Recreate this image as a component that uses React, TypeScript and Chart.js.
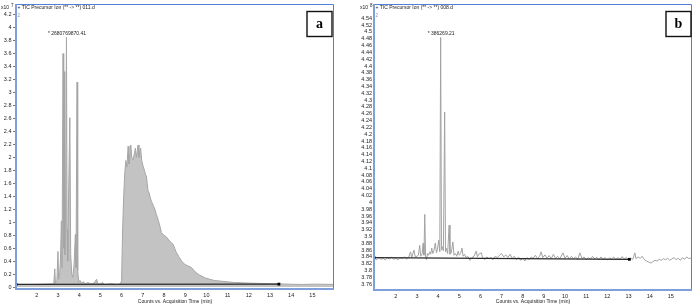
import React, { useEffect, useRef } from "react";
import { Chart, registerables } from "chart.js";

Chart.register(...registerables);

// ---------- Panel (a) data : Counts x10^7 vs acquisition time (min) ----------
const timesA = [
  1.02, 1.5, 2.0, 2.5, 2.8, 2.85, 2.88, 2.95, 3.0, 3.03, 3.08, 3.12, 3.16, 3.19, 3.24, 3.27,
  3.29, 3.32, 3.36, 3.4, 3.43, 3.46, 3.5, 3.56, 3.6, 3.65, 3.7, 3.76, 3.82, 3.85, 3.9, 3.93,
  3.98, 4.05, 4.1, 4.2, 4.3, 4.4, 4.55, 4.7, 4.82, 4.88, 5.0, 5.1, 5.2, 5.5, 5.8, 5.95,
  6.0, 6.05, 6.1, 6.15, 6.2, 6.25, 6.31, 6.35, 6.4, 6.43, 6.48, 6.54, 6.6, 6.65, 6.7, 6.74,
  6.78, 6.82, 6.86, 6.9, 6.95, 7.02, 7.08, 7.12, 7.17, 7.21, 7.25, 7.3, 7.35, 7.41, 7.48, 7.57,
  7.64, 7.72, 7.8, 7.88, 7.96, 8.04, 8.12, 8.19, 8.3, 8.43, 8.5, 8.59, 8.7, 8.83, 8.98, 9.1,
  9.3, 9.42, 9.53, 9.65, 9.77, 9.95, 10.16, 10.4, 10.71, 11.0, 11.34, 11.7, 12.1, 12.6, 13.0, 13.42,
  13.8, 14.5, 15.2, 16.02,
];
const countsA = [
  0.04, 0.04, 0.04, 0.045, 0.05, 0.28, 0.06, 0.1, 0.55, 0.12, 0.2, 0.45, 1.02, 0.3, 3.6, 0.6,
  3.32, 0.5, 1.2, 3.85, 0.89, 0.4, 1.4, 2.61, 0.5, 0.2, 0.15, 0.35, 0.81, 0.3, 3.16, 0.25,
  0.08, 0.1, 0.06, 0.08, 0.05, 0.07, 0.05, 0.06, 0.12, 0.05, 0.05, 0.07, 0.04, 0.05, 0.04, 0.05,
  0.1, 0.9, 1.4, 1.76, 1.95, 1.85, 2.17, 1.9, 2.05, 2.19, 2.0, 1.96, 2.05, 2.14, 2.0, 2.1,
  2.19, 2.0, 2.08, 2.14, 1.95, 1.86, 1.8, 1.74, 1.71, 1.6, 1.48, 1.45, 1.38, 1.32, 1.27, 1.2,
  1.12, 1.04, 0.95, 0.84, 0.81, 0.79, 0.77, 0.74, 0.7, 0.66, 0.6, 0.53, 0.47, 0.4, 0.35, 0.33,
  0.3, 0.25, 0.22, 0.19, 0.17, 0.14, 0.12, 0.1, 0.09, 0.08, 0.07, 0.065, 0.06, 0.055, 0.05, 0.05,
  0.045, 0.04, 0.045, 0.04,
];
const baseTimesA = [1.02, 13.42];
const baseCountsA = [0.04, 0.045];
const yTicksA = [0, 0.2, 0.4, 0.6, 0.8, 1, 1.2, 1.4, 1.6, 1.8, 2, 2.2, 2.4, 2.6, 2.8, 3, 3.2, 3.4, 3.6, 3.8, 4, 4.2];

// ---------- Panel (b) data : Counts x10^8 vs acquisition time (min) ----------
const timesB = [
  0.97, 1.1, 1.2, 1.3, 1.4, 1.5, 1.6, 1.7, 1.8, 1.9, 2.0, 2.1, 2.2, 2.3, 2.4, 2.5,
  2.6, 2.7, 2.75, 2.86, 2.92, 3.0, 3.07, 3.13, 3.18, 3.25, 3.29, 3.33, 3.37, 3.41, 3.45, 3.5,
  3.55, 3.6, 3.65, 3.7, 3.75, 3.8, 3.87, 3.92, 3.97, 4.03, 4.08, 4.12, 4.16, 4.2, 4.25, 4.31,
  4.35, 4.4, 4.45, 4.52, 4.56, 4.62, 4.7, 4.75, 4.82, 4.88, 4.95, 5.0, 5.06, 5.13, 5.18, 5.25,
  5.32, 5.4, 5.5, 5.6, 5.7, 5.8, 5.86, 5.92, 6.04, 6.1, 6.2, 6.3, 6.4, 6.5, 6.6, 6.7,
  6.8, 6.9, 7.0, 7.1, 7.2, 7.3, 7.4, 7.5, 7.6, 7.7, 7.8, 7.9, 8.0, 8.1, 8.2, 8.3,
  8.4, 8.5, 8.6, 8.7, 8.8, 8.87, 8.95, 9.05, 9.15, 9.25, 9.35, 9.45, 9.55, 9.65, 9.75, 9.9,
  10.0, 10.1, 10.2, 10.3, 10.4, 10.5, 10.6, 10.7, 10.8, 10.9, 11.0, 11.1, 11.2, 11.3, 11.4, 11.5,
  11.6, 11.7, 11.8, 11.9, 12.0, 12.1, 12.2, 12.3, 12.4, 12.5, 12.6, 12.7, 12.8, 12.9, 13.0, 13.1,
  13.2, 13.3, 13.35, 13.45, 13.55, 13.65, 13.75, 13.85, 13.95, 14.06, 14.15, 14.25, 14.35, 14.45, 14.55, 14.65,
  14.75, 14.85, 14.95, 15.05, 15.15, 15.25, 15.35, 15.45, 15.55, 15.65, 15.75, 15.85, 15.98,
];
const countsB = [
  3.836, 3.832, 3.838, 3.833, 3.836, 3.831, 3.837, 3.834, 3.839, 3.833, 3.836, 3.832, 3.838, 3.835, 3.84, 3.834,
  3.838, 3.855, 3.838, 3.86, 3.84, 3.842, 3.845, 3.874, 3.842, 3.85, 3.88, 3.845, 3.965, 3.838, 3.832, 3.85,
  3.845, 3.855, 3.848, 3.866, 3.85, 3.858, 3.881, 3.852, 3.862, 3.889, 3.855, 4.484, 3.86, 3.87, 3.858, 4.265,
  3.855, 3.865, 3.85, 3.933, 3.848, 3.852, 3.884, 3.845, 3.85, 3.842, 3.857, 3.845, 3.85, 3.866, 3.842, 3.848,
  3.838, 3.842, 3.83, 3.838, 3.842, 3.857, 3.84, 3.848, 3.852, 3.838, 3.832, 3.84, 3.835, 3.838, 3.832, 3.842,
  3.838, 3.845, 3.85, 3.84, 3.846, 3.838, 3.848, 3.836, 3.842, 3.832, 3.84, 3.83, 3.836, 3.828, 3.838, 3.832,
  3.84, 3.836, 3.845, 3.835, 3.842, 3.855, 3.838, 3.846, 3.836, 3.844, 3.835, 3.848, 3.836, 3.842, 3.834, 3.852,
  3.836, 3.844, 3.834, 3.842, 3.835, 3.84, 3.833, 3.852, 3.835, 3.84, 3.832, 3.838, 3.833, 3.842, 3.834, 3.839,
  3.832, 3.84, 3.833, 3.838, 3.831, 3.837, 3.834, 3.84, 3.832, 3.838, 3.833, 3.841, 3.834, 3.838, 3.832, 3.836,
  3.833, 3.852, 3.835, 3.84, 3.836, 3.842, 3.832, 3.828, 3.825, 3.822, 3.826, 3.83, 3.828, 3.833, 3.83, 3.835,
  3.832, 3.836, 3.83, 3.834, 3.838, 3.832, 3.836, 3.83, 3.838, 3.833, 3.84, 3.835, 3.838,
];
const baseTimesB = [0.97, 13.04];
const baseCountsB = [3.838, 3.833];
const yTicksB = [
  3.76, 3.78, 3.8, 3.82, 3.84, 3.86, 3.88, 3.9, 3.92, 3.94, 3.96, 3.98, 4, 4.02, 4.04, 4.06, 4.08, 4.1, 4.12, 4.14,
  4.16, 4.18, 4.2, 4.22, 4.24, 4.26, 4.28, 4.3, 4.32, 4.34, 4.36, 4.38, 4.4, 4.42, 4.44, 4.46, 4.48, 4.5, 4.52, 4.54,
];

const xTicks = [2, 3, 4, 5, 6, 7, 8, 9, 10, 11, 12, 13, 14, 15];
const xTitle = "Counts vs. Acquisition Time (min)";

const SANS = '"Liberation Sans", Arial, sans-serif';
const SERIF = '"Liberation Serif", "Times New Roman", serif';

type Spec = {
  times: number[]; values: number[]; baseTimes: number[]; baseValues: number[]; yTicks: number[];
  fill: boolean; lineColor: string; fillColor: string; lineWidth: number;
  xMin: number; xMax: number; yMin: number; yMax: number;
  yWidth: number; xHeight: number; padRight: number; tickMarks: boolean; yPad: number;
  title: string; exponent: string; expX: number; letter: string; boxGap: number; peakText: string;
};

const specA: Spec = {
  times: timesA, values: countsA, baseTimes: baseTimesA, baseValues: baseCountsA, yTicks: yTicksA,
  fill: true, lineColor: "#a6a6a6", fillColor: "#c3c3c3", lineWidth: 1,
  xMin: 1.02, xMax: 16.02, yMin: -0.03, yMax: 4.363,
  yWidth: 16, xHeight: 19, padRight: 11, tickMarks: true, yPad: 1.5,
  title: "+ TIC Precursor Ion (** -> **) 011.d", exponent: "7", expX: 1, letter: "a", boxGap: 2,
  peakText: "* 2680769870.41",
};

const specB: Spec = {
  times: timesB, values: countsB, baseTimes: baseTimesB, baseValues: baseCountsB, yTicks: yTicksB,
  fill: false, lineColor: "#a2a2a2", fillColor: "#c3c3c3", lineWidth: 1,
  xMin: 0.97, xMax: 16.0, yMin: 3.743, yMax: 4.582,
  yWidth: 29, xHeight: 18, padRight: 3, tickMarks: false, yPad: 2,
  title: "+ TIC Precursor Ion (** -> **) 008.d", exponent: "8", expX: 15, letter: "b", boxGap: 1,
  peakText: "* 386269.21",
};

function decoPlugin(s: Spec) {
  return {
    id: "deco",
    afterDatasetsDraw(chart: any) {
      const { ctx, chartArea: ca, scales } = chart;
      const x = scales.x;
      const y = scales.y;
      ctx.save();
      // frame
      ctx.strokeStyle = "#4f7fd6";
      ctx.lineWidth = 1;
      ctx.beginPath();
      ctx.moveTo(ca.left, ca.top + 0.5);
      ctx.lineTo(ca.right - 0.5, ca.top + 0.5);
      ctx.lineTo(ca.right - 0.5, ca.bottom);
      ctx.stroke();
      ctx.strokeStyle = "#7f9edc";
      ctx.lineWidth = 2;
      ctx.beginPath();
      ctx.moveTo(ca.left, ca.top);
      ctx.lineTo(ca.left, ca.bottom);
      ctx.lineTo(ca.right, ca.bottom);
      ctx.stroke();

      // title
      ctx.fillStyle = "#222";
      ctx.font = `5px ${SANS}`;
      ctx.textAlign = "left";
      ctx.textBaseline = "middle";
      ctx.fillText(s.title, ca.left + 1.5, ca.top + 3.5);
      ctx.fillStyle = "#7d8fb8";
      ctx.font = `4.5px ${SANS}`;
      ctx.fillText("2", ca.left + 1.5, ca.top + 11.5);

      // exponent
      ctx.fillStyle = "#222";
      ctx.font = `5px ${SANS}`;
      ctx.fillText("x10", s.expX, ca.top + 3.5);
      const w = ctx.measureText("x10").width;
      ctx.font = `4.5px ${SANS}`;
      ctx.fillText(s.exponent, s.expX + w + 2, ca.top + 2);

      // peak annotation
      let pi = 0;
      s.values.forEach((v, i) => { if (v > s.values[pi]) pi = i; });
      const px = x.getPixelForValue(s.times[pi]);
      const py = y.getPixelForValue(s.values[pi]);
      ctx.font = `5px ${SANS}`;
      ctx.textAlign = "center";
      ctx.textBaseline = "alphabetic";
      ctx.fillStyle = "#222";
      ctx.fillText(s.peakText, px + 0.5, py - 2);

      // letter box
      const bx = ca.right - s.boxGap - 25;
      const by = ca.top + 7.5;
      ctx.fillStyle = "#fff";
      ctx.fillRect(bx, by, 25, 25);
      ctx.strokeStyle = "#111";
      ctx.lineWidth = 1.4;
      ctx.strokeRect(bx, by, 25, 25);
      ctx.fillStyle = "#000";
      ctx.font = `bold 14px ${SERIF}`;
      ctx.textAlign = "center";
      ctx.textBaseline = "middle";
      ctx.fillText(s.letter, bx + 12.5, by + 13);
      ctx.restore();
    },
  };
}

function buildConfig(s: Spec): any {
  const series = s.times.map((t, i) => ({ x: t, y: s.values[i] }));
  const base = s.baseTimes.map((t, i) => ({ x: t, y: s.baseValues[i] }));
  return {
    type: "line",
    data: {
      datasets: [
        {
          data: base, borderColor: "#2a2a2a", borderWidth: 1.3, pointRadius: 2, pointStyle: "rect",
          pointBackgroundColor: "#000", pointBorderColor: "#000", pointBorderWidth: 0, fill: false, order: 0,
        },
        {
          data: series, borderColor: s.lineColor, backgroundColor: s.fillColor, borderWidth: s.lineWidth,
          pointRadius: 0, fill: s.fill ? "origin" : false, order: 1,
        },
      ],
    },
    options: {
      responsive: false,
      animation: false,
      devicePixelRatio: 1,
      layout: { padding: { left: 0, top: 3, right: s.padRight, bottom: 0 } },
      plugins: { legend: { display: false }, tooltip: { enabled: false } },
      elements: { line: { tension: 0 } },
      scales: {
        x: {
          type: "linear", min: s.xMin, max: s.xMax, bounds: "data",
          afterFit: (sc: any) => { sc.height = s.xHeight; sc.paddingLeft = 0; sc.paddingRight = 0; },
          afterBuildTicks: (sc: any) => { sc.ticks = xTicks.map((v) => ({ value: v })); },
          grid: { display: false, drawTicks: false, tickLength: 0 },
          border: { display: false },
          ticks: {
            autoSkip: false, maxRotation: 0, minRotation: 0, padding: 3.5, color: "#222",
            font: { family: SANS, size: 5.5 }, callback: (v: any) => String(v),
          },
          title: {
            display: true, text: xTitle, color: "#222",
            font: { family: SANS, size: 5 }, padding: { top: 0, bottom: 3 },
          },
        },
        y: {
          type: "linear", min: s.yMin, max: s.yMax, bounds: "data",
          afterFit: (sc: any) => { sc.width = s.yWidth; sc.paddingTop = 0; sc.paddingBottom = 0; },
          afterBuildTicks: (sc: any) => { sc.ticks = s.yTicks.map((v) => ({ value: v })); },
          grid: {
            display: true, drawOnChartArea: false, drawTicks: s.tickMarks, tickLength: 3,
            color: "#555", lineWidth: 0.8,
          },
          border: { display: false },
          ticks: {
            autoSkip: false, padding: s.yPad, color: "#222",
            font: { family: SANS, size: 5.5 }, callback: (v: any) => String(v),
          },
        },
      },
    },
    plugins: [decoPlugin(s)],
  };
}

function Panel({ spec, left, width }: { spec: Spec; left: number; width: number }) {
  const ref = useRef<HTMLCanvasElement>(null);
  useEffect(() => {
    const chart = new Chart(ref.current as HTMLCanvasElement, buildConfig(spec));
    return () => chart.destroy();
  }, [spec]);
  return (
    <canvas
      ref={ref}
      width={width}
      height={308}
      style={{ position: "absolute", left, top: 0, width, height: 308, display: "block" }}
    />
  );
}

export default function App() {
  return (
    <div style={{ position: "fixed", left: 0, top: 0, width: 696, height: 308, background: "#fff", overflow: "hidden" }}>
      <Panel spec={specA} left={0} width={345} />
      <Panel spec={specB} left={345} width={351} />
    </div>
  );
}
